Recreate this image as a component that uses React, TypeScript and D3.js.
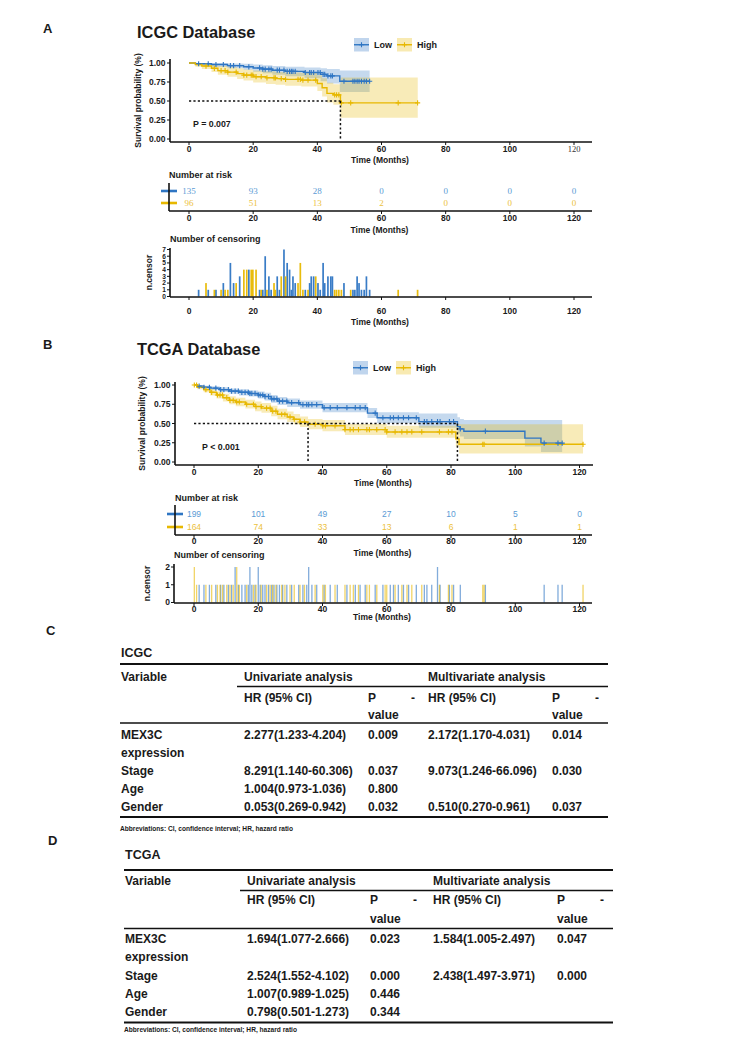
import React from "react";
import * as d3 from "d3";

const BLUE = "#2e75c3";
const YELLOW = "#e7b800";
const BLUE_TXT = "#5b9bd5";
const YELLOW_TXT = "#ecc13c";
const SANS = "'Liberation Sans', Arial, sans-serif";
const SERIF = "'Liberation Serif', 'Times New Roman', serif";

// ---------- shared ticks ----------
const timeTicks = [0, 20, 40, 60, 80, 100, 120];
const survTicks = [0, 0.25, 0.5, 0.75, 1];
const survTickLabels = ["0.00", "0.25", "0.50", "0.75", "1.00"];
const groupNames = ["Low", "High"];

// ---------- Panel A: ICGC ----------
const icgcLowTime = [0, 2, 7, 12, 17, 20, 23, 26, 30, 36, 41, 43, 47];
const icgcLowSurv = [1, 0.99, 0.98, 0.965, 0.95, 0.935, 0.92, 0.905, 0.89, 0.875, 0.85, 0.83, 0.76];
const icgcLowLower = [1, 0.97, 0.95, 0.93, 0.91, 0.885, 0.865, 0.845, 0.825, 0.8, 0.76, 0.73, 0.62];
const icgcLowUpper = [1, 1, 1, 0.995, 0.99, 0.98, 0.97, 0.96, 0.95, 0.94, 0.93, 0.92, 0.9];
const icgcLowEnd = 56.3;

const icgcHighTime = [0, 2, 4, 7, 9, 12, 15, 17, 20, 24, 27, 30, 35, 40, 41.5, 43, 45, 47.2];
const icgcHighSurv = [1, 0.98, 0.96, 0.93, 0.9, 0.88, 0.86, 0.84, 0.82, 0.805, 0.795, 0.785, 0.775, 0.73, 0.675, 0.6, 0.58, 0.475];
const icgcHighLower = [1, 0.95, 0.92, 0.88, 0.845, 0.82, 0.79, 0.77, 0.745, 0.725, 0.715, 0.7, 0.69, 0.63, 0.56, 0.48, 0.45, 0.28];
const icgcHighUpper = [1, 1, 0.995, 0.98, 0.96, 0.945, 0.93, 0.915, 0.9, 0.89, 0.88, 0.875, 0.87, 0.84, 0.8, 0.74, 0.72, 0.81];
const icgcHighEnd = 71.3;

const icgcMedians = [47.2];
const icgcP = "P = 0.007";

const icgcRiskLow = [135, 93, 28, 0, 0, 0, 0];
const icgcRiskHigh = [96, 51, 13, 2, 0, 0, 0];

const icgcCensLowTime = [3.0, 6.0, 8.4, 10.7, 12.9, 13.9, 15.8, 18.65, 22.0, 23.0, 23.75, 24.9, 25.6, 27.5, 28.2, 29.6, 30.6, 31.35, 31.9, 32.4, 33.1, 36.25, 37.6, 38.1, 38.85, 40.2, 40.9, 41.8, 42.3, 43.3, 44.2, 44.7, 48.3, 51.1, 51.7, 52.4, 53.0, 53.75, 54.6, 55.3, 56.3];
const icgcCensLowN = [1, 1, 1, 2, 5, 2, 3, 4, 1, 1, 6, 3, 1, 3, 1, 7, 5, 4, 1, 3, 2, 1, 2, 3, 3, 2, 1, 5, 2, 3, 3, 3, 2, 1, 1, 3, 2, 1, 1, 3, 1];
const icgcCensHighTime = [5.3, 7.9, 10.0, 11.25, 12.1, 14.7, 17.1, 18.0, 19.4, 19.9, 20.9, 22.5, 24.3, 26.5, 26.9, 28.75, 30.1, 33.98, 34.7, 35.5, 37.1, 39.5, 45.4, 46.0, 46.7, 47.5, 50.4, 65.2, 71.25];
const icgcCensHighN = [2, 1, 1, 1, 1, 2, 4, 4, 4, 4, 4, 1, 1, 2, 1, 3, 3, 2, 5, 1, 1, 3, 1, 1, 1, 1, 1, 1, 1];
const icgcCensTicks = [0, 1, 2, 3, 4, 5, 6, 7];

// ---------- Panel B: TCGA ----------
const tcgaLowTime = [0, 1, 3, 5, 8, 11, 14, 17, 20, 22, 24, 26, 29, 33, 40, 54, 57, 70, 82, 82.8, 84, 103, 108];
const tcgaLowSurv = [1, 0.985, 0.97, 0.96, 0.94, 0.92, 0.905, 0.89, 0.87, 0.85, 0.82, 0.79, 0.77, 0.745, 0.705, 0.635, 0.575, 0.525, 0.46, 0.43, 0.4, 0.31, 0.245];
const tcgaLowLower = [1, 0.97, 0.95, 0.935, 0.91, 0.885, 0.865, 0.85, 0.825, 0.8, 0.77, 0.74, 0.715, 0.69, 0.645, 0.57, 0.505, 0.445, 0.37, 0.33, 0.3, 0.2, 0.13];
const tcgaLowUpper = [1, 1, 0.99, 0.985, 0.97, 0.955, 0.945, 0.93, 0.915, 0.9, 0.87, 0.845, 0.825, 0.8, 0.765, 0.7, 0.645, 0.63, 0.58, 0.56, 0.545, 0.545, 0.545];
const tcgaLowEnd = 114.6;

const tcgaHighTime = [0, 1, 3, 5, 7, 9, 11, 13, 16, 19, 21, 24, 26, 29, 31, 33, 35.5, 40, 47, 60, 81.5, 82.5];
const tcgaHighSurv = [1, 0.97, 0.94, 0.905, 0.87, 0.835, 0.8, 0.78, 0.75, 0.72, 0.7, 0.66, 0.62, 0.585, 0.555, 0.52, 0.49, 0.47, 0.42, 0.39, 0.3, 0.23];
const tcgaHighLower = [1, 0.945, 0.905, 0.865, 0.825, 0.785, 0.75, 0.725, 0.695, 0.66, 0.64, 0.595, 0.555, 0.52, 0.49, 0.455, 0.425, 0.4, 0.35, 0.315, 0.2, 0.11];
const tcgaHighUpper = [1, 0.995, 0.975, 0.945, 0.915, 0.885, 0.855, 0.835, 0.81, 0.785, 0.765, 0.73, 0.69, 0.655, 0.625, 0.59, 0.56, 0.545, 0.495, 0.47, 0.49, 0.49];
const tcgaHighEnd = 121.1;

const tcgaMedians = [35.5, 82];
const tcgaP = "P < 0.001";

const tcgaRiskLow = [199, 101, 49, 27, 10, 5, 0];
const tcgaRiskHigh = [164, 74, 33, 13, 6, 1, 1];

const tcgaCensLowTime = [1.6, 3.1, 4.8, 6.8, 8.3, 9.3, 10.7, 11.7, 12.8, 13.8, 14.9, 15.9, 16.9, 17.4, 18.0, 19.0, 20.0, 20.6, 21.4, 22.1, 23.2, 24.2, 24.9, 25.8, 26.6, 27.6, 28.9, 30.4, 32.6, 33.9, 35.1, 35.7, 36.7, 38.2, 40.5, 42.4, 44.6, 47.6, 50.2, 51.7, 53.3, 56.4, 58.8, 61.1, 62.1, 63.6, 65.2, 66.8, 69.2, 71.7, 72.5, 74.0, 75.8, 76.6, 79.5, 80.8, 82.9, 90.7, 109.0, 113.3, 114.6];
const tcgaCensLowN = [1, 1, 1, 1, 1, 1, 1, 1, 2, 1, 1, 1, 1, 2, 1, 1, 2, 1, 1, 1, 1, 1, 1, 1, 1, 1, 1, 1, 1, 1, 1, 2, 1, 1, 1, 1, 1, 1, 1, 1, 1, 1, 1, 1, 1, 1, 1, 1, 1, 1, 1, 1, 2, 1, 1, 1, 1, 1, 1, 1, 1];
const tcgaCensHighTime = [0.1, 0.8, 3.7, 5.5, 7.3, 8.1, 8.9, 10.2, 11.2, 12.2, 13.3, 14.1, 16.4, 18.5, 19.3, 20.9, 22.6, 23.7, 24.5, 25.5, 27.3, 28.3, 29.9, 31.2, 33.0, 34.4, 37.7, 40.1, 40.9, 43.9, 47.0, 48.6, 49.6, 51.2, 53.8, 54.6, 56.9, 59.5, 60.0, 62.6, 64.7, 66.3, 67.8, 70.9, 76.4, 79.2, 80.3, 89.9, 90.3, 121.1];
const tcgaCensHighN = [2, 1, 1, 1, 1, 1, 1, 1, 1, 1, 2, 1, 1, 1, 1, 1, 1, 1, 1, 1, 1, 1, 1, 1, 1, 1, 1, 1, 1, 1, 1, 1, 1, 1, 1, 1, 1, 1, 1, 1, 1, 1, 1, 1, 1, 1, 1, 1, 1, 1];
const tcgaCensTicks = [0, 1, 2];

// ---------- Tables ----------
const tableVariables = ["MEX3C", "Stage", "Age", "Gender"];
const icgcUniHR = ["2.277(1.233-4.204)", "8.291(1.140-60.306)", "1.004(0.973-1.036)", "0.053(0.269-0.942)"];
const icgcUniP = ["0.009", "0.037", "0.800", "0.032"];
const icgcMultiHR = ["2.172(1.170-4.031)", "9.073(1.246-66.096)", "", "0.510(0.270-0.961)"];
const icgcMultiP = ["0.014", "0.030", "", "0.037"];
const tcgaUniHR = ["1.694(1.077-2.666)", "2.524(1.552-4.102)", "1.007(0.989-1.025)", "0.798(0.501-1.273)"];
const tcgaUniP = ["0.023", "0.000", "0.446", "0.344"];
const tcgaMultiHR = ["1.584(1.005-2.497)", "2.438(1.497-3.971)", "", ""];
const tcgaMultiP = ["0.047", "0.000", "", ""];
const abbreviationText = "Abbreviations: CI, confidence interval; HR, hazard ratio";

function survAt(times: number[], surv: number[], t: number) {
  let v = surv[0];
  for (let i = 0; i < times.length; i++) if (times[i] <= t) v = surv[i];
  return v;
}

function curvePoints(time: number[], surv: number[], lo: number[], hi: number[], end: number) {
  const pts = time.map((t, i) => ({ t, s: surv[i], lo: lo[i], hi: hi[i] }));
  const n = time.length - 1;
  pts.push({ t: end, s: surv[n], lo: lo[n], hi: hi[n] });
  return pts;
}

const Txt = (p: any) => (
  <text fontFamily={SANS} fontWeight="bold" fill="#1a1a1a" {...p}>{p.children}</text>
);

function Plus({ x, y, color, s = 2.6 }: any) {
  return <path d={`M${x - s},${y}H${x + s}M${x},${y - s}V${y + s}`} stroke={color} strokeWidth={1.1} fill="none" />;
}

function KMPanel(props: any) {
  const { x, y, curves, medians, pText, pX, pY, axisX, axisY, axisTop, axisRight, ylabX, xlabY, tickY, serif120, legendX, legendY } = props;
  const area = d3.area<any>().x(d => x(d.t)).y0(d => y(d.lo)).y1(d => y(d.hi)).curve(d3.curveStepAfter);
  const line = d3.line<any>().x(d => x(d.t)).y(d => y(d.s)).curve(d3.curveStepAfter);
  const maxMed = Math.max(...medians);
  return (
    <g>
      {curves.map((c: any, i: number) => (
        <path key={"a" + i} d={area(c.pts) || ""} fill={c.color} fillOpacity={0.28} stroke="none" />
      ))}
      {curves.map((c: any, i: number) => (
        <path key={"l" + i} d={line(c.pts) || ""} fill="none" stroke={c.color} strokeWidth={1.4} />
      ))}
      {curves.map((c: any, i: number) =>
        c.cens.map((t: number, j: number) => (
          <Plus key={"p" + i + "-" + j} x={x(t)} y={y(survAt(c.time, c.surv, t))} color={c.color} />
        ))
      )}
      <line x1={x(0)} x2={x(maxMed)} y1={y(0.5)} y2={y(0.5)} stroke="#111" strokeWidth={1.5} strokeDasharray="2.2,2.2" />
      {medians.map((m: number, i: number) => (
        <line key={"m" + i} x1={x(m)} x2={x(m)} y1={y(0.5)} y2={y(0)} stroke="#111" strokeWidth={1.5} strokeDasharray="2.2,2.2" />
      ))}
      <Txt x={pX} y={pY} fontSize={8.8}>{pText}</Txt>
      <line x1={axisX} x2={axisX} y1={axisTop} y2={axisY} stroke="#111" strokeWidth={1.6} />
      <line x1={axisX} x2={axisRight} y1={axisY} y2={axisY} stroke="#111" strokeWidth={1.6} />
      {survTicks.map((t, i) => (
        <g key={"yt" + i}>
          <line x1={axisX - 3} x2={axisX} y1={y(t)} y2={y(t)} stroke="#111" strokeWidth={1} />
          <Txt x={axisX - 4.5} y={y(t) + 3} fontSize={8.5} textAnchor="end">{survTickLabels[i]}</Txt>
        </g>
      ))}
      {timeTicks.map((t, i) => (
        <g key={"xt" + i}>
          <line x1={x(t)} x2={x(t)} y1={axisY} y2={axisY + 3} stroke="#111" strokeWidth={1} />
          {serif120 && i === timeTicks.length - 1 ? (
            <text x={x(t)} y={tickY} fontSize={8.5} fontFamily={SERIF} fill="#333" textAnchor="middle">{String(t)}</text>
          ) : (
            <Txt x={x(t)} y={tickY} fontSize={8.5} textAnchor="middle">{String(t)}</Txt>
          )}
        </g>
      ))}
      <Txt x={(axisX + axisRight) / 2 - 1} y={xlabY} fontSize={8.5} textAnchor="middle">Time (Months)</Txt>
      <Txt x={0} y={0} fontSize={8.5} textAnchor="middle" transform={`translate(${ylabX},${(axisTop + axisY) / 2}) rotate(-90)`}>Survival probability (%)</Txt>
      {curves.map((c: any, i: number) => {
        const lx = legendX[i];
        return (
          <g key={"lg" + i}>
            <rect x={lx} y={legendY} width={15} height={13.5} fill={c.color} fillOpacity={0.3} />
            <line x1={lx} x2={lx + 15} y1={legendY + 6.75} y2={legendY + 6.75} stroke={c.color} strokeWidth={1.4} />
            <Plus x={lx + 7.5} y={legendY + 6.75} color={c.color} />
            <Txt x={lx + 20} y={legendY + 10} fontSize={9}>{groupNames[i]}</Txt>
          </g>
        );
      })}
    </g>
  );
}

function RiskTable(props: any) {
  const { x, axisX, axisTop, axisY, axisRight, rows, rowY, serif, fontSize, titleY, tickY, xlabY } = props;
  return (
    <g>
      <Txt x={axisX} y={titleY} fontSize={9}>Number at risk</Txt>
      {rows.map((r: any, i: number) => (
        <g key={i}>
          <line x1={axisX - 8} x2={axisX + 8} y1={rowY[i]} y2={rowY[i]} stroke={r.color} strokeWidth={2.6} />
          {r.values.map((v: number, j: number) => (
            <text key={j} x={x(timeTicks[j])} y={rowY[i] + 3.2} fontSize={fontSize} fontFamily={serif ? SERIF : SANS} fill={r.txt} textAnchor="middle">{String(v)}</text>
          ))}
        </g>
      ))}
      <line x1={axisX} x2={axisX} y1={axisTop} y2={axisY} stroke="#111" strokeWidth={1.6} />
      <line x1={axisX} x2={axisRight} y1={axisY} y2={axisY} stroke="#111" strokeWidth={1.6} />
      {timeTicks.map((t, i) => (
        <g key={"t" + i}>
          <line x1={x(t)} x2={x(t)} y1={axisY} y2={axisY + 3} stroke="#111" strokeWidth={1} />
          <Txt x={x(t)} y={tickY} fontSize={8.5} textAnchor="middle">{String(t)}</Txt>
        </g>
      ))}
      <Txt x={(axisX + axisRight) / 2 - 1} y={xlabY} fontSize={8.5} textAnchor="middle">Time (Months)</Txt>
    </g>
  );
}

function CensorPlot(props: any) {
  const { x, y, axisX, axisTop, axisY, axisRight, series, ticks, titleY, tickY, xlabY, ylabX, barW, opacity, yTickFont } = props;
  return (
    <g>
      <Txt x={axisX} y={titleY} fontSize={9}>Number of censoring</Txt>
      {series.map((s: any, i: number) =>
        s.time.map((t: number, j: number) => (
          <rect key={i + "-" + j} x={x(t) - barW / 2} y={y(s.n[j])} width={barW} height={y(0) - y(s.n[j])} fill={s.color} fillOpacity={opacity} />
        ))
      )}
      <line x1={axisX} x2={axisX} y1={axisTop} y2={axisY} stroke="#111" strokeWidth={1.6} />
      <line x1={axisX} x2={axisRight} y1={axisY} y2={axisY} stroke="#111" strokeWidth={1.6} />
      {ticks.map((t: number, i: number) => (
        <g key={"y" + i}>
          <line x1={axisX - 3} x2={axisX} y1={y(t)} y2={y(t)} stroke="#111" strokeWidth={1} />
          <Txt x={axisX - 4} y={y(t) + yTickFont * 0.35} fontSize={yTickFont} textAnchor="end">{String(t)}</Txt>
        </g>
      ))}
      {timeTicks.map((t, i) => (
        <g key={"t" + i}>
          <line x1={x(t)} x2={x(t)} y1={axisY} y2={axisY + 3} stroke="#111" strokeWidth={1} />
          <Txt x={x(t)} y={tickY} fontSize={8.5} textAnchor="middle">{String(t)}</Txt>
        </g>
      ))}
      <Txt x={(axisX + axisRight) / 2 - 1} y={xlabY} fontSize={8.5} textAnchor="middle">Time (Months)</Txt>
      <Txt x={0} y={0} fontSize={8.5} textAnchor="middle" transform={`translate(${ylabX},${(axisTop + axisY) / 2}) rotate(-90)`}>n.censor</Txt>
    </g>
  );
}

function HRTable(props: any) {
  const { title, c, r, uniHR, uniP, multiHR, multiP } = props;
  const fs = 12;
  return (
    <g>
      <Txt x={c.left} y={r.title} fontSize={12.5}>{title}</Txt>
      <line x1={c.left - 1} x2={c.right} y1={r.top} y2={r.top} stroke="#111" strokeWidth={2} />
      <Txt x={c.left} y={r.h1} fontSize={fs}>Variable</Txt>
      <Txt x={c.uni} y={r.h1} fontSize={fs}>Univariate analysis</Txt>
      <Txt x={c.multi} y={r.h1} fontSize={fs}>Multivariate analysis</Txt>
      <line x1={c.under} x2={c.right} y1={r.under} y2={r.under} stroke="#111" strokeWidth={1.3} />
      <Txt x={c.uni} y={r.h2} fontSize={fs}>HR (95% CI)</Txt>
      <Txt x={c.p1} y={r.h2} fontSize={fs}>P</Txt>
      <Txt x={c.d1} y={r.h2} fontSize={fs}>-</Txt>
      <Txt x={c.multi} y={r.h2} fontSize={fs}>HR (95% CI)</Txt>
      <Txt x={c.p2} y={r.h2} fontSize={fs}>P</Txt>
      <Txt x={c.d2} y={r.h2} fontSize={fs}>-</Txt>
      <Txt x={c.p1} y={r.val} fontSize={fs}>value</Txt>
      <Txt x={c.p2} y={r.val} fontSize={fs}>value</Txt>
      <line x1={c.left - 1} x2={c.right} y1={r.mid} y2={r.mid} stroke="#111" strokeWidth={1.3} />
      {tableVariables.map((v, i) => {
        const yy = r.r0 + (i === 0 ? 0 : (i + 1) * r.L);
        return (
          <g key={i}>
            <Txt x={c.left} y={yy} fontSize={fs}>{v}</Txt>
            {i === 0 && <Txt x={c.left} y={yy + r.L} fontSize={fs}>expression</Txt>}
            <Txt x={c.uni} y={yy} fontSize={fs}>{uniHR[i]}</Txt>
            <Txt x={c.p1} y={yy} fontSize={fs}>{uniP[i]}</Txt>
            <Txt x={c.multi} y={yy} fontSize={fs}>{multiHR[i]}</Txt>
            <Txt x={c.p2} y={yy} fontSize={fs}>{multiP[i]}</Txt>
          </g>
        );
      })}
      <line x1={c.left - 1} x2={c.right} y1={r.bottom} y2={r.bottom} stroke="#111" strokeWidth={2.2} />
      <Txt x={c.left - 1} y={r.abbr} fontSize={6.6}>{abbreviationText}</Txt>
    </g>
  );
}

export default function App() {
  const xA = d3.scaleLinear().domain([0, 120]).range([189, 574]);
  const yA = d3.scaleLinear().domain([0, 1]).range([139, 63]);
  const yAc = d3.scaleLinear().domain([0, 7]).range([296.5, 249.5]);
  const xB = d3.scaleLinear().domain([0, 120]).range([194, 579.5]);
  const yB = d3.scaleLinear().domain([0, 1]).range([462, 385]);
  const yBc = d3.scaleLinear().domain([0, 2]).range([602.5, 567]);

  const curvesA = [
    { color: BLUE, time: icgcLowTime, surv: icgcLowSurv, cens: icgcCensLowTime, pts: curvePoints(icgcLowTime, icgcLowSurv, icgcLowLower, icgcLowUpper, icgcLowEnd) },
    { color: YELLOW, time: icgcHighTime, surv: icgcHighSurv, cens: icgcCensHighTime, pts: curvePoints(icgcHighTime, icgcHighSurv, icgcHighLower, icgcHighUpper, icgcHighEnd) },
  ];
  const curvesB = [
    { color: BLUE, time: tcgaLowTime, surv: tcgaLowSurv, cens: tcgaCensLowTime, pts: curvePoints(tcgaLowTime, tcgaLowSurv, tcgaLowLower, tcgaLowUpper, tcgaLowEnd) },
    { color: YELLOW, time: tcgaHighTime, surv: tcgaHighSurv, cens: tcgaCensHighTime, pts: curvePoints(tcgaHighTime, tcgaHighSurv, tcgaHighLower, tcgaHighUpper, tcgaHighEnd) },
  ];

  return (
    <svg width={744} height={1052} style={{ position: "absolute", left: 0, top: 0, display: "block", background: "#fff" }}>
      <rect x={0} y={0} width={744} height={1052} fill="#fff" />
      {/* ===== A ===== */}
      <Txt x={43} y={33} fontSize={13}>A</Txt>
      <Txt x={137} y={38} fontSize={16.4}>ICGC Database</Txt>
      <KMPanel x={xA} y={yA} curves={curvesA} medians={icgcMedians} pText={icgcP} pX={193} pY={127}
        axisX={170} axisY={142} axisTop={59} axisRight={592} ylabX={141} xlabY={163} tickY={151.5}
        serif120={true} legendX={[354, 397]} legendY={38} />
      <RiskTable x={xA} axisX={169} axisTop={183} axisY={211} axisRight={592} serif={true} fontSize={9}
        rows={[{ color: BLUE, txt: BLUE_TXT, values: icgcRiskLow }, { color: YELLOW, txt: YELLOW_TXT, values: icgcRiskHigh }]}
        rowY={[191, 203]} titleY={178} tickY={220.5} xlabY={233} />
      <CensorPlot x={xA} y={yAc} axisX={170} axisTop={248} axisY={297} axisRight={592}
        series={[{ color: BLUE, time: icgcCensLowTime, n: icgcCensLowN }, { color: YELLOW, time: icgcCensHighTime, n: icgcCensHighN }]}
        ticks={icgcCensTicks} titleY={242} tickY={314} xlabY={325} ylabX={152} barW={1.7} opacity={0.95} yTickFont={6.6} />

      {/* ===== B ===== */}
      <Txt x={43} y={349} fontSize={13}>B</Txt>
      <Txt x={137} y={355} fontSize={16.4}>TCGA Database</Txt>
      <KMPanel x={xB} y={yB} curves={curvesB} medians={tcgaMedians} pText={tcgaP} pX={202} pY={450}
        axisX={175} axisY={465} axisTop={382} axisRight={593} ylabX={145} xlabY={486} tickY={474.5}
        serif120={false} legendX={[353, 396]} legendY={361} />
      <RiskTable x={xB} axisX={175} axisTop={505} axisY={535} axisRight={592} serif={false} fontSize={8.5}
        rows={[{ color: BLUE, txt: BLUE_TXT, values: tcgaRiskLow }, { color: YELLOW, txt: YELLOW_TXT, values: tcgaRiskHigh }]}
        rowY={[514, 527]} titleY={501} tickY={544} xlabY={556} />
      <CensorPlot x={xB} y={yBc} axisX={174} axisTop={564} axisY={603} axisRight={592}
        series={[{ color: BLUE, time: tcgaCensLowTime, n: tcgaCensLowN }, { color: YELLOW, time: tcgaCensHighTime, n: tcgaCensHighN }]}
        ticks={tcgaCensTicks} titleY={558} tickY={611.5} xlabY={620} ylabX={150} barW={1.3} opacity={0.6} yTickFont={8.5} />

      {/* ===== C ===== */}
      <Txt x={46} y={635} fontSize={13}>C</Txt>
      <HRTable title="ICGC"
        c={{ left: 121, uni: 244, p1: 368, d1: 411, multi: 428, p2: 552, d2: 595, right: 608, under: 237 }}
        r={{ title: 657, top: 664, h1: 681, under: 686.5, h2: 702, val: 719, mid: 723, r0: 739, L: 17.9, bottom: 817, abbr: 831 }}
        uniHR={icgcUniHR} uniP={icgcUniP} multiHR={icgcMultiHR} multiP={icgcMultiP} />

      {/* ===== D ===== */}
      <Txt x={48} y={845} fontSize={13}>D</Txt>
      <HRTable title="TCGA"
        c={{ left: 125, uni: 247, p1: 370, d1: 413, multi: 433, p2: 557, d2: 600, right: 613, under: 240 }}
        r={{ title: 859, top: 870, h1: 885, under: 890.5, h2: 904, val: 923, mid: 928.5, r0: 943, L: 18.25, bottom: 1022.5, abbr: 1032 }}
        uniHR={tcgaUniHR} uniP={tcgaUniP} multiHR={tcgaMultiHR} multiP={tcgaMultiP} />
    </svg>
  );
}
